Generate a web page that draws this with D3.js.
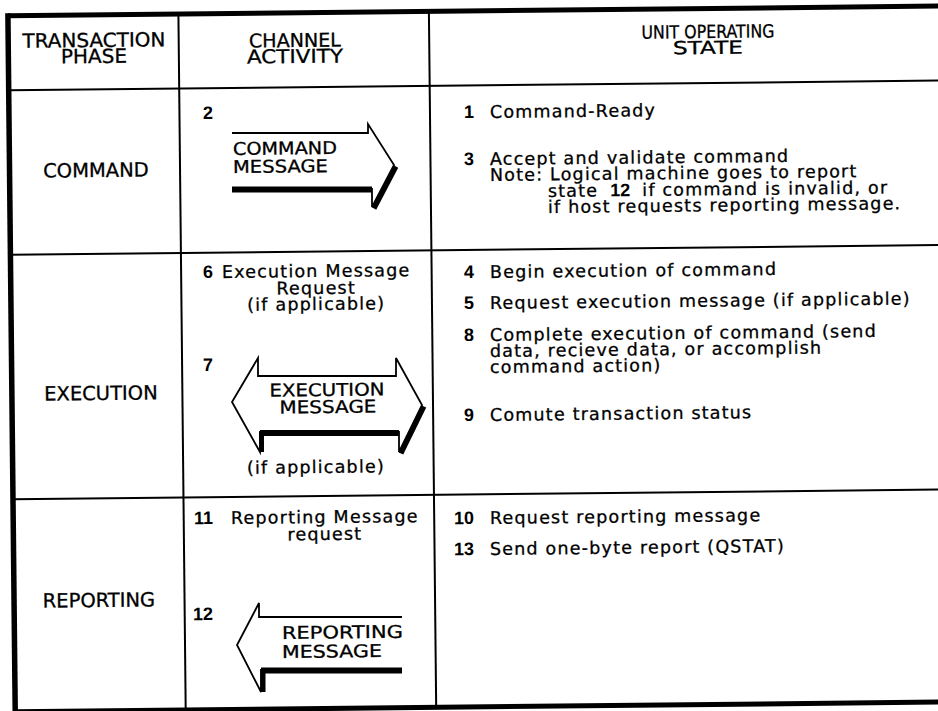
<!DOCTYPE html>
<html><head><meta charset="utf-8">
<script src="https://cdn.jsdelivr.net/npm/d3@7"></script>
<style>html,body{margin:0;padding:0;background:#fff;} svg{display:block;}</style>
</head><body><svg id="c" width="938" height="711"></svg>
<script>
// ---------------- data ----------------
const headerLines = [["TRANSACTION","PHASE"],["CHANNEL","ACTIVITY"],["UNIT OPERATING","STATE"]];
const phases = ["COMMAND","EXECUTION","REPORTING"];
const channelItems = [
  {num:"2",  lines:[]},
  {num:"6",  lines:["Execution Message","Request","(if applicable)"]},
  {num:"7",  lines:[]},
  {num:"11", lines:["Reporting Message","request"]},
  {num:"12", lines:[]}
];
const arrowLabels = [["COMMAND","MESSAGE"],["EXECUTION","MESSAGE"],["REPORTING","MESSAGE"]];
const arrowNotes = ["","(if applicable)",""];
// each block: a number and its lines; a line is a list of segments ({b:..} = bold number)
const unitBlocks = [
  {num:"1",  lines:[["Command-Ready"]]},
  {num:"3",  lines:[["Accept and validate command"],
                    ["Note: Logical machine goes to report"],
                    ["state", {b:"12"}, "if command is invalid, or"],
                    ["if host requests reporting message."]]},
  {num:"4",  lines:[["Begin execution of command"]]},
  {num:"5",  lines:[["Request execution message (if applicable)"]]},
  {num:"8",  lines:[["Complete execution of command (send"],
                    ["data, recieve data, or accomplish"],
                    ["command action)"]]},
  {num:"9",  lines:[["Comute transaction status"]]},
  {num:"10", lines:[["Request reporting message"]]},
  {num:"13", lines:[["Send one-byte report (QSTAT)"]]}
];

// ---------------- layout ----------------
const ROT = -0.6, CX = 469, CY = 355;
const colX = [11.5, 182, 432.5, 980];
const rowY = [11, 85.5, 250, 494.5, 707];
const headerPos = [
  {x:94,  y:[47,63], w:[143,66], size:19.5},
  {x:295, y:[47,63], w:[92,96],  size:19},
  {x:708, y:[38,54], w:[133,70], size:18}
];
const phasePos = [{x:96,y:177},{x:101,y:400},{x:99,y:607}];
const channelPos = [
  {nx:213, y:119},
  {nx:213, tx:222, y:278, dy:16},
  {nx:213, y:371},
  {nx:213, tx:231, y:524, dy:16},
  {nx:213, y:620}
];
// x / y of each line start per block
const unitPos = [
  [[490,118]],
  [[490,165],[490,181],[548,197],[548,213]],
  [[490,278]],
  [[490,309]],
  [[490,341],[490,357],[490,373]],
  [[490,421]],
  [[490,524]],
  [[490,555]]
];
const inlineGap = 12;
const unitNumX = 474;
const arrowLabelPos = [
  {anchor:"start",  x:[233,233], y:[155,173], w:[104,95]},
  {anchor:"middle", x:[327,328], y:[396,413], w:[115,97]},
  {anchor:"start",  x:[282,282], y:[639,658], w:[121,100]}
];
const arrowNotePos = [null, {x:316, y:473}, null];
const arrowShapes = [
  {outline:[[232,133],[368,133],[368,124],[394,165],[372,207],[372,189],[232,189]], closed:false,
   shadow:[{p:[[232,189],[372,189]],w:6,d:[0,0.5]},{p:[[394,165],[372,207]],w:5,d:[2,1.5]}]},
  {outline:[[258,376],[396,376],[396,358],[422,405],[399,452],[399,432],[260,432],[260,452],[232,402],[258,358]], closed:true,
   shadow:[{p:[[260,432],[399,432]],w:6,d:[0,1]},{p:[[260,432],[260,452]],w:5,d:[1.5,0]},{p:[[422,405],[399,452]],w:5,d:[2,1.5]}]},
  {outline:[[402,617],[259,617],[259,603],[237,645],[261,692],[261,670],[402,670]], closed:false,
   shadow:[{p:[[261,670],[402,670]],w:6,d:[0,0.5]},{p:[[261,670],[261,692]],w:5,d:[2,0]}]}
];
const BODY = {size:17.5, ls:1.2};

// ---------------- drawing ----------------
const FONT = "'DejaVu Sans', sans-serif";
const NUMFONT = "'Liberation Sans', Arial, sans-serif";
const svg = d3.select("#c");
svg.append("rect").attr("width",938).attr("height",711).attr("fill","#fff");
const g = svg.append("g").attr("transform", `rotate(${ROT},${CX},${CY})`);

// inverse rotation: measured picture coords -> group coords
function un(x, y){
  const a = -ROT*Math.PI/180, dx = x-CX, dy = y-CY;
  return [CX + dx*Math.cos(a) - dy*Math.sin(a), CY + dx*Math.sin(a) + dy*Math.cos(a)];
}

// grid
const line = (x1,y1,x2,y2,w) => g.append("line").attr("x1",x1).attr("y1",y1).attr("x2",x2).attr("y2",y2)
  .attr("stroke","#000").attr("stroke-width",w);
line(colX[0], rowY[0]-2.5, colX[0], rowY[4]+2.5, 5.5);
line(colX[0], rowY[0], colX[3], rowY[0], 5);
line(colX[0], rowY[4], colX[3], rowY[4], 5);
[rowY[1], rowY[2], rowY[3]].forEach(y => line(colX[0], y, colX[3], y, 2));
[colX[1], colX[2]].forEach(x => line(x, rowY[0], x, rowY[4], 2));

function newText(o={}){
  const t = g.append("text")
    .attr("font-family", o.family || FONT).attr("font-size", o.size || BODY.size)
    .attr("font-weight", o.weight || "normal").attr("fill","#000")
    .attr("stroke","#000").attr("stroke-width", o.sw != null ? o.sw : 0.3)
    .attr("text-anchor", o.anchor || "start");
  if (o.ls != null) t.attr("letter-spacing", o.ls);
  return t;
}
function addLine(t, px, py, str, o={}){
  const [x,y] = un(px,py);
  const s = t.append("tspan").attr("x",x).attr("y",y);
  if (str != null) s.text(str);
  if (o.anchor) s.attr("text-anchor", o.anchor);
  if (o.w) s.attr("textLength", o.w).attr("lengthAdjust","spacingAndGlyphs");
  return s;
}
function measure(str, o){
  const t = newText(o).text(str);
  const w = t.node().getComputedTextLength();
  t.remove();
  return w;
}

// headers (one text element per two-line heading)
headerLines.forEach((lines,i) => {
  const p = headerPos[i];
  const t = newText({size:p.size, anchor:"middle"});
  lines.forEach((s,j) => addLine(t, p.x, p.y[j], s, {w:p.w[j]}));
});

// phases
phases.forEach((s,i) => addLine(newText({size:19.5, anchor:"middle"}), phasePos[i].x, phasePos[i].y, s));

// channel items
channelItems.forEach((it,i) => {
  const p = channelPos[i];
  addLine(newText({family:NUMFONT, weight:"bold", size:18, anchor:"end", sw:0}), p.nx, p.y, it.num);
  if (it.lines.length){
    const opts = {size:BODY.size, ls:BODY.ls};
    const w = measure(it.lines[0], opts);
    const cx = p.tx + w/2;
    const t = newText(opts);
    addLine(t, p.tx, p.y, it.lines[0]);
    it.lines.slice(1).forEach((s,k) => addLine(t, cx, p.y + p.dy*(k+1), s, {anchor:"middle"}));
  }
});

// arrows
const lineGen = d3.line();
arrowShapes.forEach((a,i) => {
  a.shadow.forEach(s => {
    const pts = s.p.map(q => un(q[0]+s.d[0], q[1]+s.d[1]));
    g.append("path").attr("d", lineGen(pts)).attr("stroke","#000").attr("stroke-width",s.w)
      .attr("fill","none").attr("stroke-linecap","butt");
  });
  const pts = a.outline.map(q => un(q[0],q[1]));
  g.append("path").attr("d", lineGen(pts) + (a.closed ? "Z" : "")).attr("stroke","#000")
    .attr("stroke-width",1.8).attr("fill","none").attr("stroke-linejoin","miter");
  const lp = arrowLabelPos[i];
  const t = newText({size:17.5, anchor:lp.anchor});
  arrowLabels[i].forEach((s,j) => addLine(t, lp.x[j], lp.y[j], s, {w:lp.w[j]}));
  if (arrowNotes[i]) addLine(newText({anchor:"middle", ls:BODY.ls}), arrowNotePos[i].x, arrowNotePos[i].y, arrowNotes[i]);
});

// unit operating state blocks
unitBlocks.forEach((blk,i) => {
  const pos = unitPos[i];
  addLine(newText({family:NUMFONT, weight:"bold", size:18, anchor:"end", sw:0}), unitNumX, pos[0][1], blk.num);
  const t = newText({ls:BODY.ls});
  blk.lines.forEach((segs,j) => {
    const ln = addLine(t, pos[j][0], pos[j][1], null);
    segs.forEach((s,k) => {
      const sp = ln.append("tspan");
      if (k > 0) sp.attr("dx", inlineGap);
      if (typeof s === "string") sp.text(s);
      else sp.text(s.b).attr("font-family",NUMFONT).attr("font-weight","bold")
        .attr("font-size",18).attr("stroke-width",0).attr("letter-spacing",0);
    });
  });
});
</script>
</body></html>
